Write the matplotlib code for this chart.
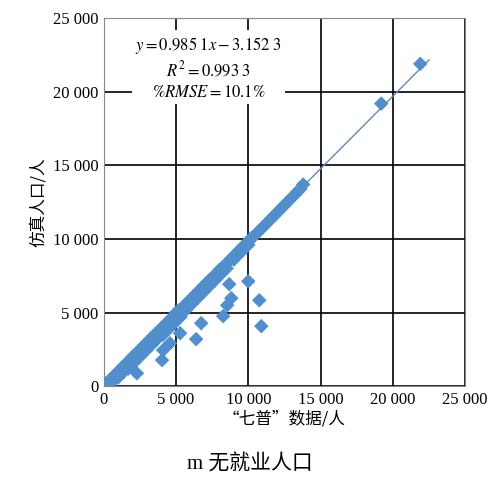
import numpy as np
import matplotlib.pyplot as plt

plt.rcParams['font.family'] = ['Noto Sans CJK SC', 'DejaVu Sans']

# census values (x) and simulated values (y)
census = [50, 150, 300, 420, 600, 750, 900, 1100, 1250, 1400, 1600, 1800, 2000, 2200, 2400,
          2600, 2800, 3000, 3200, 3400, 3600, 3800, 4000, 4200, 4400, 4600, 4800, 5000, 5200,
          5400, 5600, 5800, 6000, 6200, 6400, 6600, 6800, 7000, 7200, 7400, 7600, 7800, 8000,
          8200, 8400, 8600, 8800, 9000, 9200, 9400, 9600, 9800, 10000, 10200, 10400, 10600,
          10800, 11000, 11200, 11400, 11600, 11800, 12000, 12200, 12400, 12600, 12800, 13000,
          13200, 13400, 13600, 13800, 19200, 21900,
          # lower spread of the band
          700, 1000, 1300, 1700, 2100, 2500, 2900, 3300, 3700, 4100, 4500, 4900, 5300, 5700,
          6100, 6500, 6900, 7300, 7700, 8100, 8500, 9000, 9500, 10000,
          # outliers
          8680, 10000, 10760, 10900, 8820, 8540, 8260, 6740, 6390, 5280, 4580, 4100, 4030, 2290]
simulated = [40, 160, 280, 430, 580, 760, 880, 1090, 1260, 1380, 1590, 1790, 2010, 2180, 2390,
             2580, 2790, 2980, 3190, 3380, 3570, 3760, 3960, 4150, 4350, 4540, 4740, 5000, 5150,
             5300, 5500, 5700, 5900, 6100, 6300, 6500, 6700, 6900, 7100, 7300, 7450, 7650, 7900,
             8050, 8250, 8450, 8650, 8850, 9050, 9250, 9450, 9650, 9850, 10050, 10200, 10400,
             10600, 10800, 11000, 11200, 11400, 11600, 11800, 12000, 12200, 12400, 12600, 12800,
             13000, 13200, 13400, 13700, 19200, 21900,
             400, 600, 900, 1200, 1600, 2000, 2400, 2800, 3200, 3500, 3900, 4300, 4700, 5200,
             5600, 6000, 6400, 6800, 7200, 7600, 8000, 8600, 9100, 9600,
             6930, 7130, 5840, 4080, 5980, 5500, 4760, 4280, 3200, 3600, 2920, 2450, 1770, 880]

fig = plt.figure(figsize=(4.99, 4.92), dpi=100)
ax = fig.add_axes([0.208, 0.215, 0.724, 0.748])
blue = '#4f8fcf'
ax.scatter(census, simulated, marker='D', s=55, color=blue, edgecolors='none', zorder=3)
xs = np.array([0, 22500])
ax.plot(xs, 0.9851 * xs - 3.1523, color='#5a8cc0', lw=1, zorder=4)

ax.set_xlim(0, 25000)
ax.set_ylim(0, 25000)
ticks = [0, 5000, 10000, 15000, 20000, 25000]
labels = ['0', '5 000', '10 000', '15 000', '20 000', '25 000']
ax.set_xticks(ticks)
ax.set_xticklabels(labels, family='Liberation Serif', fontsize=12)
ax.set_yticks(ticks)
ax.set_yticklabels(labels, family='Liberation Serif', fontsize=12)
ax.grid(color='black', lw=1.2)
ax.tick_params(length=0, pad=4)
for s in ax.spines.values():
    s.set_color('#888888')
ax.set_xlabel('“七普”数据/人', fontsize=12, labelpad=2)
ax.set_ylabel('仿真人口/人', fontsize=12, labelpad=4)

ax.text(0.29, 0.955, r'$y=0.985\;1x-3.152\;3$' + '\n' + r'$R^2=0.993\;3$' + '\n' + r'$\%RMSE=10.1\%$',
        transform=ax.transAxes, ha='center', va='top', fontsize=12, linespacing=1.3,
        math_fontfamily='stix', bbox=dict(facecolor='white', edgecolor='none', pad=2), zorder=5)

fig.text(0.5, 0.045, 'm 无就业人口', ha='center', fontsize=15,
         family=['Liberation Serif', 'Noto Sans CJK SC'])
fig.savefig('out.png')
